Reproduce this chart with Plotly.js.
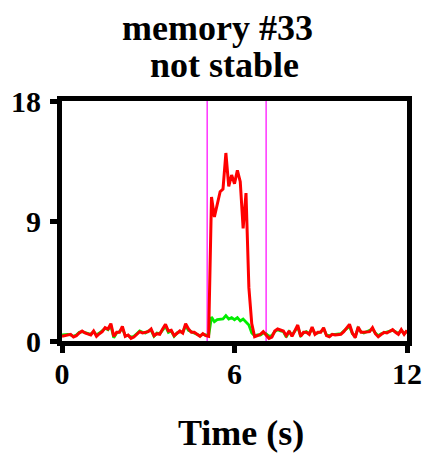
<!DOCTYPE html>
<html>
<head>
<meta charset="utf-8">
<script src="https://cdn.plot.ly/plotly-3.0.1.min.js"></script>
<style>html,body{margin:0;padding:0;background:#fff;}#chart{width:426px;height:455px;}</style>
</head>
<body>
<div id="chart"></div>
<script>
// sample times (s)
const timeS = [
0.0,0.1,0.2,0.3,0.4,0.5,0.6,0.7,0.8,0.9,
1.0,1.1,1.2,1.3,1.4,1.5,1.6,1.7,1.8,1.9,
2.0,2.1,2.2,2.3,2.4,2.5,2.6,2.7,2.8,2.9,
3.0,3.1,3.2,3.3,3.4,3.5,3.6,3.7,3.8,3.9,
4.0,4.1,4.2,4.3,4.4,4.5,4.6,4.7,4.8,4.9,
5.0,5.1,5.2,5.3,5.4,5.5,5.6,5.7,5.8,5.9,
6.0,6.1,6.2,6.3,6.4,6.5,6.6,6.7,6.8,6.9,
7.0,7.1,7.2,7.3,7.4,7.5,7.6,7.7,7.8,7.9,
8.0,8.1,8.2,8.3,8.4,8.5,8.6,8.7,8.8,8.9,
9.0,9.1,9.2,9.3,9.4,9.5,9.6,9.7,9.8,9.9,
10.0,10.1,10.2,10.3,10.4,10.5,10.6,10.7,10.8,10.9,
11.0,11.1,11.2,11.3,11.4,11.5,11.6,11.7,11.8,11.9,
12.0];

// red trace
const redValues = [
0.35,0.4,0.45,0.5,0.3,0.4,0.6,0.75,0.6,0.5,
0.45,0.75,0.35,0.55,0.7,1.0,0.9,1.3,0.35,0.65,
0.65,1.1,0.35,0.45,0.2,0.3,0.5,0.7,0.6,0.65,
0.7,0.9,0.4,0.55,0.5,0.9,1.25,0.75,0.8,0.4,
0.55,0.75,0.6,1.3,0.9,0.65,0.65,0.5,0.35,0.55,
0.4,0.35,10.8,9.3,10.2,11.2,11.4,14.1,11.6,12.45,
11.8,12.8,11.95,8.45,11.1,4.0,1.3,0.32,0.4,0.5,
0.7,0.45,0.2,0.3,0.75,0.9,0.8,0.75,0.4,0.75,
0.35,0.8,1.2,0.35,0.65,0.65,0.5,1.05,0.5,0.65,
0.65,1.0,0.4,0.32,0.5,0.45,0.45,0.5,0.7,1.0,
1.25,0.6,0.25,1.05,0.65,0.65,0.65,0.7,1.0,0.55,
0.32,0.5,0.65,0.6,0.75,0.85,0.65,0.5,0.85,0.5,
0.8];

// green trace
const greenValues = [
0.45,0.5,0.5,0.45,0.35,0.45,0.65,0.7,0.65,0.55,
0.5,0.7,0.45,0.6,0.8,0.95,0.85,1.15,0.25,0.6,
0.7,0.95,0.4,0.4,0.3,0.35,0.55,0.75,0.65,0.6,
0.75,0.8,0.35,0.6,0.55,0.85,1.1,0.65,0.75,0.35,
0.6,0.7,0.65,1.15,0.8,0.7,0.6,0.55,0.4,0.5,
0.45,0.4,1.8,1.45,1.6,1.6,1.65,1.9,1.65,1.75,
1.6,1.75,1.5,1.65,1.4,1.2,0.6,0.4,0.45,0.45,
0.6,0.55,0.35,0.4,0.7,0.85,0.75,0.7,0.3,0.7,
0.45,0.75,1.05,0.4,0.6,0.7,0.55,0.95,0.55,0.6,
0.7,0.9,0.45,0.4,0.5,0.5,0.5,0.55,0.75,0.95,
1.1,0.55,0.35,0.95,0.7,0.6,0.7,0.75,0.9,0.6,
0.4,0.55,0.6,0.65,0.7,0.8,0.7,0.55,0.8,0.55,
0.75];

// stimulus markers (s)
const stimulusTimes = [5.05, 7.1];

const xTickVals = [0, 6, 12];
const xTickText = ['0', '6', '12'];
const yTickVals = [0, 9, 18];
const yTickText = ['0', '9', '18'];
const titleLines = ['memory #33', 'not stable'];
const xTitle = 'Time (s)';

const FONT = 'Liberation Serif, Times New Roman, serif';

const traces = [];
stimulusTimes.forEach(t => {
  traces.push({
    x: [t, t], y: [0, 18], mode: 'lines', type: 'scatter',
    line: {color: '#ff33ff', width: 1.5}, hoverinfo: 'skip', showlegend: false
  });
});
traces.push({x: timeS, y: greenValues, mode: 'lines', type: 'scatter',
  line: {color: '#00ee00', width: 2.8}, showlegend: false});
traces.push({x: timeS, y: redValues, mode: 'lines', type: 'scatter',
  line: {color: '#ff0000', width: 3}, showlegend: false});

const titleFont = {family: FONT, size: 36, color: '#000', weight: 'bold'};

const layout = {
  width: 426, height: 455,
  margin: {l: 62, r: 19, t: 101, b: 114},
  paper_bgcolor: '#ffffff', plot_bgcolor: '#ffffff',
  showlegend: false,
  annotations: [
    {text: titleLines[0], xref: 'paper', yref: 'paper', x: 0.452, y: 1.304,
     xanchor: 'center', yanchor: 'middle', showarrow: false, font: titleFont},
    {text: titleLines[1], xref: 'paper', yref: 'paper', x: 0.47, y: 1.15,
     xanchor: 'center', yanchor: 'middle', showarrow: false, font: titleFont},
    {text: xTitle, xref: 'paper', yref: 'paper', x: 0.519, y: -0.383,
     xanchor: 'center', yanchor: 'middle', showarrow: false, borderpad: 0,
     font: {family: FONT, size: 36, color: '#000', weight: 'bold'}}
  ],
  xaxis: {
    range: [0, 12], fixedrange: true,
    tickmode: 'array', tickvals: xTickVals, ticktext: xTickText,
    ticks: 'outside', ticklen: 7, tickwidth: 5, tickcolor: '#000',
    ticklabelstandoff: -5,
    showline: true, linewidth: 5, linecolor: '#000', mirror: true,
    showgrid: false, zeroline: false,
    tickfont: {family: FONT, size: 30, color: '#000', weight: 'bold'}
  },
  yaxis: {
    range: [0, 18], fixedrange: true,
    tickmode: 'array', tickvals: yTickVals, ticktext: yTickText,
    ticks: 'outside', ticklen: 7, tickwidth: 5, tickcolor: '#000',
    ticklabelstandoff: 3,
    showline: true, linewidth: 5, linecolor: '#000', mirror: true,
    showgrid: false, zeroline: false,
    tickfont: {family: FONT, size: 30, color: '#000', weight: 'bold'}
  }
};

Plotly.newPlot('chart', traces, layout, {staticPlot: true, displayModeBar: false});
</script>
</body>
</html>
